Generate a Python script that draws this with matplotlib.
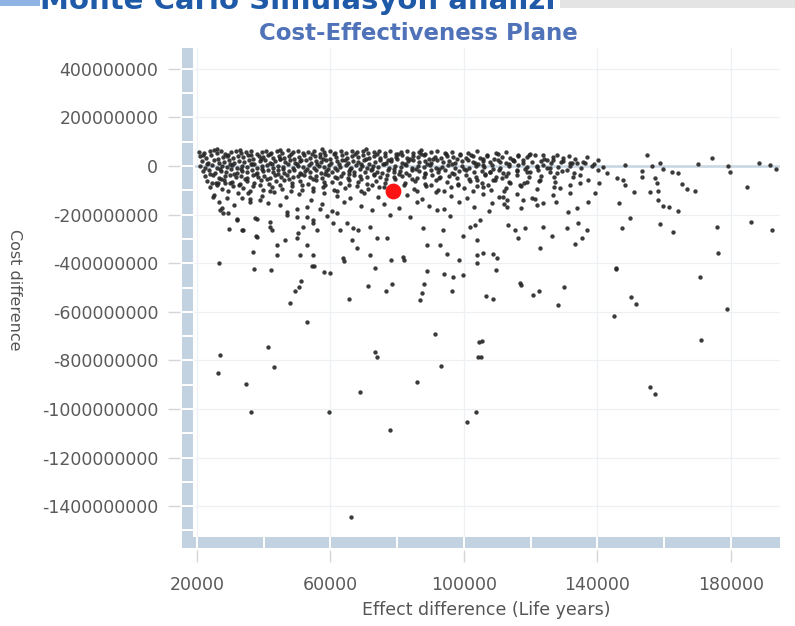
import numpy as np
import matplotlib.pyplot as plt
import matplotlib.transforms as mtransforms
from matplotlib.patches import Rectangle
from matplotlib.ticker import FuncFormatter, FixedLocator

# Monte Carlo draws: (effect difference in life years, cost difference in millions)
band_a = [(20600, 58), (22100, 52), (23800, 61), (25900, 55), (26000, 70), (27200, 63), (28500, 50),
          (30100, 57), (31800, 62), (33300, 53), (34700, 59), (36200, 64), (37900, 51), (39400, 58),
          (40800, 62), (42300, 55), (43900, 60), (44800, 68), (45600, 52), (47200, 65), (48800, 57),
          (50300, 61), (51900, 54), (53400, 59), (55100, 63), (56800, 50), (57500, 72), (58200, 58),
          (59900, 62), (61500, 55), (63100, 60), (64600, 53), (66400, 64), (68000, 57), (69700, 61),
          (70500, 69), (71300, 52), (73000, 59), (74600, 63), (76200, 55), (77900, 60), (79500, 51),
          (81200, 58), (83000, 62), (84700, 54), (86500, 59), (87000, 66), (88300, 48), (90100, 56),
          (92000, 61), (94200, 53), (96500, 58), (98800, 50), (101300, 55), (103900, 60), (106800, 47),
          (109500, 52), (112700, 58), (116300, 45), (119800, 51), (127900, 44), (131500, 40)]

band_b = [(20900, 40), (22800, 35), (24100, 44), (26300, 31), (27900, 38), (29400, 46), (30800, 33),
          (32300, 41), (33900, 36), (35300, 47), (36900, 30), (38500, 42), (39900, 37), (41400, 45),
          (42900, 32), (44500, 40), (46000, 35), (47500, 43), (49100, 30), (50700, 38), (52200, 46),
          (53800, 33), (55300, 41), (56900, 36), (58400, 44), (60000, 31), (61700, 39), (63300, 47),
          (64900, 34), (66500, 42), (68200, 37), (69800, 45), (71400, 32), (73100, 40), (74700, 35),
          (76300, 43), (78000, 30), (79600, 38), (81300, 46), (82900, 33), (84600, 41), (86200, 36),
          (87900, 44), (89600, 31), (91400, 39), (93100, 34), (94900, 42), (96800, 37), (98700, 45),
          (100600, 32), (102600, 40), (104700, 35), (106900, 43), (109100, 30), (111400, 38),
          (113800, 33), (116200, 41), (118800, 36), (121300, 44), (124000, 31), (126800, 39),
          (129800, 34), (133200, 30), (136900, 37)]

band_c = [(21400, 20), (23200, 14), (25100, 25), (26700, 11), (28200, 18), (29700, 27), (31200, 13),
          (32700, 22), (34100, 16), (35700, 26), (37200, 10), (38800, 19), (40300, 24), (41800, 12),
          (43300, 21), (44800, 28), (46400, 15), (47900, 23), (49400, 11), (51000, 19), (52600, 26),
          (54100, 14), (55700, 22), (57200, 17), (58800, 27), (60300, 12), (61900, 20), (63500, 25),
          (65100, 13), (66700, 21), (68300, 16), (69900, 26), (71500, 10), (73200, 18), (74800, 23),
          (76500, 14), (78100, 22), (79800, 28), (81400, 11), (83100, 19), (84800, 24), (86500, 15),
          (88200, 21), (90000, 12), (91800, 26), (93600, 17), (95500, 22), (97400, 13), (99300, 20),
          (101300, 25), (103400, 14), (105600, 21), (107900, 16), (110200, 24), (112600, 12),
          (115100, 19), (117700, 23), (120400, 15), (123200, 20), (126100, 13), (129100, 18),
          (132400, 11), (135800, 16), (139000, 8)]

band_d = [(20800, 2), (22500, -6), (24400, 4), (26000, -9), (27600, 0), (29100, -4), (30500, 6),
          (32000, -8), (33500, 1), (35000, -3), (36600, 7), (38100, -10), (39600, -1), (41100, 5),
          (42700, -7), (44200, 2), (45700, -5), (47300, 8), (48800, -9), (50400, 0), (51900, -4),
          (53500, 4), (55000, -8), (56600, 1), (58100, -2), (59700, 6), (61300, -10), (62900, -3),
          (64500, 3), (66100, -6), (67700, 5), (69300, -1), (71000, -9), (72600, 2), (74300, -5),
          (75900, 7), (77600, -8), (79300, 0), (81000, -3), (82700, 4), (84400, -7), (86100, 1),
          (87900, -4), (89700, 6), (91500, -9), (93400, -2), (95300, 3), (97300, -6), (99300, 0),
          (101400, -8), (103600, 2), (105900, -4), (108300, 5), (110800, -7), (113400, -1),
          (116100, 3), (118900, -5), (121800, 1), (124900, -8), (128200, -2), (131700, 0),
          (135100, -6), (138500, 2)]

band_e = [(21700, -22), (23500, -16), (25400, -28), (27100, -19), (28800, -25), (30300, -14),
          (31900, -29), (33400, -20), (35000, -24), (36500, -17), (38100, -27), (39700, -21),
          (41200, -15), (42800, -26), (44400, -18), (46000, -30), (47600, -22), (49200, -16),
          (50800, -27), (52400, -20), (54000, -24), (55600, -15), (57200, -29), (58800, -19),
          (60400, -23), (62100, -17), (63700, -28), (65400, -21), (67000, -25), (68700, -14),
          (70400, -26), (72100, -18), (73800, -23), (75500, -30), (77300, -16), (79100, -24),
          (80900, -20), (82700, -27), (84500, -15), (86400, -22), (88300, -29), (90200, -18),
          (92200, -25), (94200, -16), (96300, -28), (98400, -21), (100600, -17), (102900, -26),
          (105300, -19), (107800, -24), (110400, -15), (113100, -28), (116000, -20), (119000, -25),
          (122300, -17), (125700, -23), (129300, -19), (133000, -27)]

band_f = [(22300, -42), (24700, -36), (26500, -48), (28300, -40), (30000, -35), (31700, -46),
          (33300, -39), (35000, -50), (36700, -37), (38400, -44), (40100, -41), (41800, -49),
          (43500, -36), (45200, -43), (46900, -38), (48700, -47), (50400, -40), (52200, -35),
          (54000, -45), (55800, -41), (57600, -50), (59400, -37), (61300, -44), (63200, -39),
          (65100, -48), (67000, -36), (68900, -42), (70900, -46), (72900, -38), (74900, -44),
          (77000, -35), (79100, -47), (81300, -41), (83500, -37), (85800, -49), (88100, -43),
          (90500, -36), (92900, -45), (95400, -40), (98000, -48), (100700, -38), (103500, -44),
          (106400, -36), (109500, -47), (112700, -41), (116000, -38), (119500, -46), (123200, -40),
          (127100, -44)]

band_g = [(23100, -62), (25800, -70), (28000, -58), (30600, -66), (32800, -74), (34900, -60),
          (37100, -68), (39300, -56), (41500, -72), (43800, -63), (46100, -57), (48400, -69),
          (50800, -61), (53200, -75), (55600, -59), (58000, -67), (60500, -64), (63000, -71),
          (65600, -58), (68200, -66), (70900, -73), (73600, -60), (76400, -68), (79300, -55),
          (82200, -70), (85200, -62), (88300, -74), (91500, -59), (94800, -66), (98200, -72),
          (101800, -61), (105500, -69), (109400, -57), (113500, -65), (117900, -71), (122500, -60),
          (127400, -67), (24500, -70), (26300, -70), (28400, -70), (29900, -70)]

band_h = [(24000, -88), (27400, -96), (30900, -84), (33700, -92), (36800, -81), (39900, -99),
          (42600, -87), (45400, -94), (48500, -82), (51600, -97), (54700, -89), (57900, -85),
          (61200, -98), (64400, -90), (67800, -83), (71200, -95), (74600, -88), (85000, -93),
          (88600, -81), (92300, -99), (96100, -86), (100000, -92), (104000, -84), (108200, -97),
          (112600, -89), (117100, -83), (121900, -95), (126900, -87)]

band_i = [(25000, -118), (28900, -130), (32400, -110), (36000, -136), (39500, -122), (43100, -106),
          (46800, -128), (50500, -115), (54300, -138), (58100, -109), (62000, -125), (65900, -133),
          (70000, -112), (74200, -127), (83000, -119), (87300, -135), (91700, -108), (96200, -124),
          (100800, -131), (105600, -113), (110600, -129), (115800, -117), (121200, -137),
          (126800, -121), (33500, -132), (35300, -111)]

band_j = [(26500, -150), (31000, -162), (35900, -148), (38900, -140), (41300, -152), (44900, -160),
          (47000, -189), (50000, -178), (53000, -170), (57500, -156), (60500, -184), (64000, -149),
          (69000, -166), (72500, -180), (76000, -158), (80500, -171), (86000, -146), (89500, -163),
          (94000, -176), (98500, -150), (103000, -168), (107500, -185), (112000, -155),
          (117000, -172), (122000, -160), (127500, -147)]

band_k = [(21900, 47), (25200, 66), (28900, 43), (32900, 67), (36100, 45), (39100, 29), (42000, 48),
          (45000, 28), (48200, 49), (51300, 27), (54600, 48), (57900, 29), (61000, 49), (64200, 27),
          (67400, 48), (70600, 29), (73800, 49), (77100, 27), (80300, 48), (83800, 29), (87100, 50),
          (90800, 28), (94600, 48), (98000, 29), (102100, 47), (105600, 28), (110100, 48),
          (114700, 27), (119500, 47), (125000, 26),
          (22900, 7), (26800, -12), (30000, 9), (33100, -12), (36300, 8), (39500, -11), (42400, 9),
          (45900, -12), (49900, 7), (53000, -11), (56100, 8), (59300, -12), (62600, 9), (65800, -11),
          (69000, 8), (72300, -12), (75600, 9), (78900, -11), (82300, 8), (85600, -12), (89000, 9),
          (92600, -11), (96300, 8), (100100, -12), (104300, 7), (108800, -11), (113500, 8),
          (118300, -12), (123700, 6),
          (23800, -32), (27300, -52), (31000, -33), (34300, -53), (37600, -32), (40900, -54),
          (44300, -33), (47700, -52), (51200, -32), (54700, -53), (58300, -33), (61900, -51),
          (65500, -32), (69200, -52), (72900, -33), (76600, -53), (80500, -32), (84300, -52),
          (88400, -33), (92600, -51), (96900, -32), (101500, -52), (106300, -33), (111300, -51)]

band_l = [(26000, -80), (29400, -104), (32600, -78), (35800, -101), (38800, -79), (41900, -103),
          (45000, -77), (48300, -104), (51500, -79), (54900, -102), (58300, -78), (62000, -104),
          (65500, -79), (69000, -102), (72400, -78), (76100, -86), (82000, -80), (86000, -104),
          (90000, -77), (94100, -103), (98300, -79), (102700, -102), (107300, -78), (112000, -104),
          (116900, -79)]

upper_tail = [(24800, -128), (27500, -173), (29300, -193), (32000, -218), (29600, -259), (33500, -263),
              (37700, -288), (38000, -218), (41900, -251), (42500, -263), (44000, -325), (46400, -305),
              (50000, -296), (50300, -276), (53000, -325), (51800, -251), (56000, -263), (54800, -222),
              (58900, -206), (56900, -177), (61900, -193), (62800, -263), (64900, -235), (66700, -255),
              (68200, -263), (66400, -305), (67900, -337), (71800, -251), (73900, -296), (76900, -296),
              (77800, -202), (83800, -210), (87700, -255), (91900, -181), (93700, -263), (95800, -206),
              (99700, -288), (101800, -251), (103900, -305), (81700, -374), (88900, -325), (92800, -325),
              (94900, -362), (71800, -366), (63700, -379), (54800, -366), (50900, -366), (44000, -366),
              (36800, -354), (26900, -181), (27800, -193), (32000, -222), (33800, -263), (37400, -214),
              (47000, -200), (50000, -210), (53000, -210), (60700, -235), (38000, -292), (41900, -230),
              (54800, -235)]

mid_right = [(102700, 16), (105700, 4), (110800, 16), (114700, 25), (117700, 12), (123700, 45),
             (126700, 25), (129700, 21), (131800, 12), (133900, 12), (136200, 12), (107800, -25),
             (111700, -29), (115900, -16), (119800, -25), (121900, -4), (125800, -8), (127900, -29),
             (130900, -16), (132600, -45), (134700, -37), (137100, -58), (103900, -58), (108700, -58),
             (113800, -70), (118900, -66), (122800, -58), (128800, -91), (131800, -78), (134700, -70),
             (105700, -86), (111700, -128), (112900, -140), (117700, -140), (120400, -132),
             (108400, -152), (123700, -152), (131800, -111), (131200, -189), (133900, -173),
             (137100, -148), (139200, -111), (112900, -169), (104800, -222), (103300, -243),
             (113200, -243), (115300, -263), (118300, -255), (123700, -251), (126400, -288),
             (130900, -255), (134100, -235), (136800, -263), (116200, -296), (122800, -337),
             (133200, -321), (135300, -296), (103900, -366), (108700, -362), (105700, -358),
             (109900, -379)]

right_cluster = [(154800, 45), (174300, 33), (188400, 12), (170100, 8), (179100, 0), (179700, -25),
                 (148200, 4), (156300, 0), (158700, 12), (153300, -21), (153300, -45), (157200, -49),
                 (159600, -12), (162300, -25), (164100, -29), (165300, -74), (166800, -95),
                 (169200, -103), (184800, -86), (157800, -70), (150900, -107), (155700, -107),
                 (158100, -103), (158100, -140), (159600, -165), (161400, -169), (164100, -185),
                 (146400, -152), (149700, -214), (158700, -239), (147300, -255), (162600, -272),
                 (175800, -251), (186000, -230), (192300, -263), (176100, -358), (145500, -420),
                 (140100, 25), (140100, -16), (140400, -70), (145800, -49), (147600, -58),
                 (148200, -78), (141600, -4), (142800, -29), (191700, 4), (193600, -12)]

lower_left = [(26600, -399), (37100, -424), (42200, -428), (55100, -412), (54500, -410), (58000, -436),
              (59800, -440), (64000, -391), (73300, -420), (78100, -387), (82000, -387), (88900, -432),
              (94000, -444), (96700, -457), (99700, -449), (98500, -387), (103900, -399), (51200, -473),
              (50600, -498), (49400, -514), (47900, -564), (71200, -494), (78400, -486), (76600, -514),
              (65500, -547), (88000, -486), (87400, -523), (86800, -551), (96400, -514), (53000, -642),
              (91300, -691), (41300, -745), (26900, -778), (73300, -765), (73900, -786), (104500, -724),
              (104200, -786), (43100, -827), (26300, -852), (93100, -823), (34700, -897), (85900, -889),
              (68800, -930), (36200, -1012), (59500, -1012), (103600, -1012), (100900, -1053),
              (77800, -1086), (66100, -1444)]

lower_right = [(109600, -428), (116800, -481), (117100, -490), (106600, -535), (108700, -547),
               (120700, -531), (122500, -514), (130000, -498), (128200, -572), (145500, -424),
               (170700, -457), (150000, -539), (151500, -568), (144900, -617), (178800, -588),
               (105400, -720), (105100, -786), (171000, -716), (155700, -909), (157200, -938)]

# mean of the simulation (red point)
mean_effect = 78700
mean_cost = -103

x_ticks = [20000, 60000, 100000, 140000, 180000]
y_ticks = [400, 200, 0, -200, -400, -600, -800, -1000, -1200, -1400]

groups = [band_a, band_b, band_c, band_d, band_e, band_f, band_g, band_h, band_i, band_j,
          band_k, band_l, upper_tail, mid_right, right_cluster, lower_left, lower_right]
pts = np.array([p for g in groups for p in g], dtype=float)
effect = pts[:, 0]
cost = pts[:, 1] * 1e6

W, H = 795, 626
fig = plt.figure(figsize=(W / 100, H / 100), dpi=100)
fig.patch.set_facecolor('white')

# plot area in pixels: x 195..780, y 48..537
ax = fig.add_axes([195 / W, 1 - 537 / H, 585 / W, 489 / H])
ax.set_xlim(19400, 194700)
ax.set_ylim(-1527e6, 486e6)

for s in ax.spines.values():
    s.set_visible(False)
ax.spines['left'].set_position(('outward', 10.8))
ax.spines['bottom'].set_position(('outward', 9.4))

ax.xaxis.set_major_locator(FixedLocator(x_ticks))
ax.yaxis.set_major_locator(FixedLocator([v * 1e6 for v in y_ticks]))
ax.xaxis.set_major_formatter(FuncFormatter(lambda v, p: f'{v:.0f}'))
ax.yaxis.set_major_formatter(FuncFormatter(lambda v, p: f'{v:.0f}'))
ax.tick_params(axis='both', direction='out', length=8.6, width=1, color='#d6d6d6',
               labelcolor='#5a5a5a', labelsize=12.5)
ax.tick_params(axis='y', pad=7)
ax.tick_params(axis='x', pad=10)

ax.grid(True, color='#eef0f3', lw=0.9)
ax.set_axisbelow(True)
ax.axhline(0, color='#c8d4e0', lw=1.8, zorder=1)

# thick segmented axis bars
bar_color = '#c3d2e1'
ax.add_patch(Rectangle((-13 / 585, -11 / 489), 11 / 585, 1 + 11 / 489, transform=ax.transAxes,
                       clip_on=False, facecolor=bar_color, lw=0, zorder=0))
ax.add_patch(Rectangle((-12 / 585, -11 / 489), 1 + 12 / 585, 11 / 489, transform=ax.transAxes,
                       clip_on=False, facecolor=bar_color, lw=0, zorder=0))
tx = mtransforms.blended_transform_factory(ax.transData, ax.transAxes)
for xv in range(20000, 190000, 20000):
    ax.plot([xv, xv], [-11 / 489, 0], transform=tx, color='white', lw=1.4, clip_on=False, zorder=0.5)
ty = mtransforms.blended_transform_factory(ax.transAxes, ax.transData)
for yv in np.arange(-1500, 500, 100):
    ax.plot([-13 / 585, -2 / 585], [yv * 1e6, yv * 1e6], transform=ty, color='white', lw=1.4,
            clip_on=False, zorder=0.5)

ax.scatter(effect, cost, s=10, c='#262626', linewidths=0, alpha=0.9, zorder=3)
ax.scatter([mean_effect], [mean_cost * 1e6], s=130, c='#ff1414', linewidths=0, zorder=4)

# texts
fig.text(418 / W, 1 - 33 / H, 'Cost-Effectiveness Plane', ha='center', va='center',
         fontsize=16.5, fontweight='bold', color='#4f72b8')
fig.text(40 / W, 1 - 9 / H, 'Monte Carlo Simulasyon analizi', ha='left', va='baseline',
         fontsize=21, fontweight='bold', color='#1f5aa8')
fig.text(14 / W, 1 - 290 / H, 'Cost difference', rotation=270, ha='center', va='center',
         fontsize=11.5, color='#555555')
fig.text(486 / W, 1 - 610 / H, 'Effect difference (Life years)', ha='center', va='center',
         fontsize=12.5, color='#555555')

# slide decorations at the top edge
fig.patches.append(Rectangle((0, 1 - 6 / H), 40 / W, 6 / H, transform=fig.transFigure,
                             facecolor='#8fb4e3', lw=0))
fig.patches.append(Rectangle((560 / W, 1 - 8 / H), 235 / W, 8 / H, transform=fig.transFigure,
                             facecolor='#e4e4e4', lw=0))

fig.savefig('out.png', dpi=100)
